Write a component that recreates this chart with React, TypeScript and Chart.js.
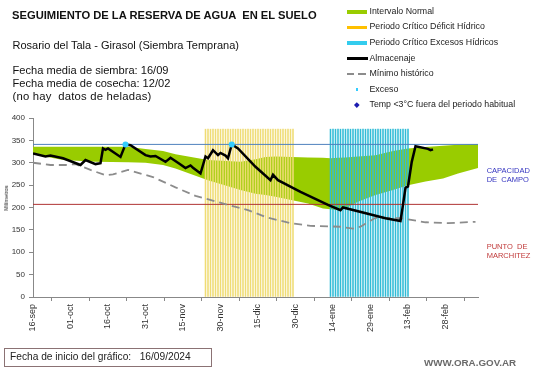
import React, { useEffect, useRef } from 'react';
import { Chart, registerables } from 'chart.js';

Chart.register(...registerables);

const FONT = '"Liberation Sans", Arial, sans-serif';

// x axis: days since 16-sep-2024
const axisEndDay = 178;
const tickDays = [0, 15, 30, 45, 60, 75, 90, 105, 120, 135, 150, 165];
const tickLabels = ['16-sep', '01-oct', '16-oct', '31-oct', '15-nov', '30-nov', '15-dic', '30-dic', '14-ene', '29-ene', '13-feb', '28-feb'];
const yTickValues = [0, 50, 100, 150, 200, 250, 300, 350, 400];

// Almacenaje
const almacenajeDays = [0, 5, 7, 12, 19, 21, 25, 27, 28, 29, 30, 35, 37, 39, 45, 47, 49, 53, 55, 59, 61, 63, 64, 67, 69, 70, 72, 74, 75, 77, 78, 79.5, 82, 89, 95, 96, 98, 107, 118, 123, 124, 141, 147, 148, 149, 150, 151.5, 153, 158, 159, 160];
const almacenajeValues = [321, 314, 316, 310, 295, 306, 297, 299, 332, 329, 332, 313, 341, 339, 317, 314, 315, 302, 311, 296, 288, 294, 289, 276, 314, 310, 328, 317, 322, 316, 310, 341, 332, 291, 261, 273, 261, 235, 206, 194, 200, 176, 170, 206, 244, 247, 302, 337, 331, 328, 330];

// Intervalo normal (band)
const bandDays = [0, 12, 25, 38, 45, 52, 57, 70, 83, 89, 93, 97, 110, 116, 119, 122, 125, 130, 137, 144, 150, 157, 164, 170, 178];
const bandUpper = [336, 336, 336, 336, 331, 326, 319, 306, 302, 308, 313, 314, 312, 311, 310, 311, 312, 314, 317, 326, 332, 335, 338, 340, 342];
const bandLower = [319, 306, 302, 301, 300, 295, 287, 261, 239, 231, 228, 224, 209, 198, 196, 194, 198, 213, 228, 239, 250, 258, 265, 276, 288];

// Mínimo histórico
const minimoDays = [0, 7, 13, 17, 23, 29, 32, 38, 48, 57, 65, 74, 86, 94, 103, 111, 123, 128, 131, 137, 147, 157, 166, 177];
const minimoValues = [300, 295, 295, 297, 284, 272, 274, 284, 268, 245, 226, 212, 194, 177, 165, 159, 157, 153, 157, 177, 176, 167, 165, 168];

// Exceso
const excesoDays = [37, 79.5];
const excesoValues = [341, 341];

// Periodos críticos
const deficitDays = [69, 70, 71, 72, 73, 74, 75, 76, 77, 78, 79, 80, 81, 82, 83, 84, 85, 86, 87, 88, 89, 90, 91, 92, 93, 94, 95, 96, 97, 98, 99, 100, 101, 102, 103, 104];
const excesosDays = [119, 120, 121, 122, 123, 124, 125, 126, 127, 128, 129, 130, 131, 132, 133, 134, 135, 136, 137, 138, 139, 140, 141, 142, 143, 144, 145, 146, 147, 148, 149, 150];
const periodTop = 375;

const capacidadCampo = 341;
const puntoMarchitez = 207;

const pts = (xs: number[], ys: number[]) => xs.map((x, i) => ({ x, y: ys[i] }));

function T(props: { x: number; y: number; size: number; text: string; bold?: boolean; color?: string; ls?: number }) {
  return (
    <div
      style={{
        position: 'absolute',
        left: props.x,
        top: props.y,
        fontFamily: FONT,
        fontSize: props.size,
        lineHeight: props.size + 'px',
        fontWeight: props.bold ? 'bold' : 'normal',
        color: props.color || '#111',
        whiteSpace: 'pre',
        letterSpacing: props.ls ? props.ls + 'px' : undefined,
      }}
    >
      {props.text}
    </div>
  );
}

const legendRows = [
  'Intervalo Normal',
  'Periodo Crítico Déficit Hídrico',
  'Periodo Crítico Excesos Hídricos',
  'Almacenaje',
  'Mínimo histórico',
  'Exceso',
  'Temp <3°C fuera del periodo habitual',
];

export default function App() {
  const ref = useRef<HTMLCanvasElement | null>(null);

  useEffect(() => {
    if (!ref.current) return;
    const chart = new Chart(ref.current, {
      type: 'line',
      data: {
        datasets: [
          { label: 'upper', data: pts(bandDays, bandUpper), borderWidth: 0, pointRadius: 0, fill: '+1', backgroundColor: '#99cc00', borderColor: '#99cc00', order: 10 } as any,
          { label: 'lower', data: pts(bandDays, bandLower), borderWidth: 0, pointRadius: 0, fill: false, order: 10 } as any,
          { type: 'bar', label: 'deficit', data: deficitDays.map((d) => ({ x: d, y: periodTop })), backgroundColor: '#efdc74', barThickness: 0.9, grouped: false, order: 8 } as any,
          { type: 'bar', label: 'excesos', data: excesosDays.map((d) => ({ x: d, y: periodTop })), backgroundColor: '#30bcd6', barThickness: 0.9, grouped: false, order: 8 } as any,
          { label: 'cc', data: [{ x: 0, y: capacidadCampo }, { x: axisEndDay, y: capacidadCampo }], borderColor: '#4f81bd', borderWidth: 1, pointRadius: 0, order: 6 } as any,
          { label: 'pm', data: [{ x: 0, y: puntoMarchitez }, { x: axisEndDay, y: puntoMarchitez }], borderColor: '#b03232', borderWidth: 1, pointRadius: 0, order: 6 } as any,
          { label: 'min', data: pts(minimoDays, minimoValues), borderColor: '#8c8c8c', borderWidth: 1.8, borderDash: [8, 5], pointRadius: 0, order: 5 } as any,
          { label: 'alm', data: pts(almacenajeDays, almacenajeValues), borderColor: '#000000', borderWidth: 2.5, pointRadius: 0, order: 2 } as any,
          { label: 'exceso', data: pts(excesoDays, excesoValues), showLine: false, pointRadius: 3, pointBackgroundColor: '#33ccff', pointBorderWidth: 0, pointStyle: 'circle', order: 1 } as any,
        ],
      },
      options: {
        animation: false,
        responsive: false,
        events: [],
        layout: { padding: { left: 0, right: 63, top: 118, bottom: 31 } },
        plugins: { legend: { display: false }, tooltip: { enabled: false }, title: { display: false } },
        scales: {
          x: {
            type: 'linear',
            min: 0,
            max: axisEndDay,
            offset: false,
            afterBuildTicks: (s: any) => {
              s.ticks = tickDays.map((value) => ({ value }));
            },
            afterFit: (s: any) => {
              s.height = 40;
            },
            ticks: {
              autoSkip: false,
              minRotation: 90,
              maxRotation: 90,
              padding: 3,
              color: '#333',
              font: { family: FONT, size: 9 },
              callback: (v: any) => tickLabels[tickDays.indexOf(Number(v))],
            },
            grid: { display: true, drawOnChartArea: false, drawTicks: true, tickLength: 4, color: '#888' },
            border: { display: true, color: '#888', width: 1 },
          },
          y: {
            type: 'linear',
            min: 0,
            max: 400,
            afterBuildTicks: (s: any) => {
              s.ticks = yTickValues.map((value) => ({ value }));
            },
            afterFit: (s: any) => {
              s.width = 33;
            },
            ticks: { padding: 4, color: '#333', font: { family: FONT, size: 8 } },
            grid: { display: true, drawOnChartArea: false, drawTicks: true, tickLength: 4, color: '#888' },
            border: { display: true, color: '#888', width: 1 },
          },
        },
      },
    });
    return () => chart.destroy();
  }, []);

  const rowY = (i: number) => 11.7 + 15.55 * i;

  return (
    <div style={{ position: 'absolute', left: 0, top: 0, width: 541, height: 368, background: '#fff', overflow: 'hidden' }}>
      <canvas ref={ref} width={541} height={368} style={{ position: 'absolute', left: 0, top: 0, width: 541, height: 368 }} />

      <T x={12} y={10} size={11.2} bold text="SEGUIMIENTO DE LA RESERVA DE AGUA  EN EL SUELO" />
      <T x={12.5} y={40.4} size={11} text="Rosario del Tala - Girasol (Siembra Temprana)" />
      <div style={{ position: 'absolute', left: 12.5, top: 63.5, fontFamily: FONT, fontSize: 11.1, lineHeight: '13px', color: '#111', whiteSpace: 'pre' }}>
        {'Fecha media de siembra: 16/09\nFecha media de cosecha: 12/02'}
      </div>
      <T x={12.5} y={91} size={11.3} ls={0.2} text="(no hay  datos de heladas)" />

      {/* legend */}
      <div style={{ position: 'absolute', left: 347, top: rowY(0) - 1.7, width: 20, height: 3.5, background: '#99cc00' }} />
      <div style={{ position: 'absolute', left: 347, top: rowY(1) - 1.7, width: 20, height: 3.5, background: '#ffc000' }} />
      <div style={{ position: 'absolute', left: 347, top: rowY(2) - 1.7, width: 20, height: 3.5, background: '#33ccee' }} />
      <div style={{ position: 'absolute', left: 347, top: rowY(3) - 1.2, width: 21, height: 2.5, background: '#000' }} />
      <div style={{ position: 'absolute', left: 347, top: rowY(4) - 1, width: 6.5, height: 2, background: '#8c8c8c' }} />
      <div style={{ position: 'absolute', left: 357.5, top: rowY(4) - 1, width: 8.5, height: 2, background: '#8c8c8c' }} />
      <div style={{ position: 'absolute', left: 355.8, top: rowY(5) - 1.3, width: 2.6, height: 2.6, background: '#33ccff' }} />
      <div style={{ position: 'absolute', left: 355.3, top: rowY(6) - 1.8, width: 3.6, height: 3.6, background: '#1c1cb0', transform: 'rotate(45deg)' }} />
      {legendRows.map((t, i) => (
        <T key={t} x={369.5} y={rowY(i) - 4.8} size={8.8} color="#222" text={t} />
      ))}

      {/* y-axis title */}
      <div style={{ position: 'absolute', left: 6.2, top: 198, width: 0, height: 0 }}>
        <div style={{ position: 'absolute', transform: 'translate(-50%,-50%) rotate(-90deg)', fontFamily: FONT, fontSize: 5.5, lineHeight: '6px', color: '#222', whiteSpace: 'pre' }}>Milímetros</div>
      </div>

      {/* reference labels */}
      <T x={486.7} y={166.5} size={7.5} color="#3535c0" text="CAPACIDAD" />
      <T x={486.7} y={175.5} size={7.5} color="#3535c0" text="DE  CAMPO" />
      <T x={486.7} y={243} size={7.5} color="#c03a3a" text="PUNTO  DE" />
      <T x={486.7} y={251.5} size={7.5} color="#c03a3a" text="MARCHITEZ" />

      {/* footer */}
      <div style={{ position: 'absolute', left: 4, top: 348, width: 206, height: 17, border: '1px solid #8b7274', background: '#fff' }} />
      <T x={10} y={352.3} size={10.2} color="#222" text="Fecha de inicio del gráfico:   16/09/2024" />
      <T x={424} y={358.3} size={9.8} bold color="#6a6a6a" text="WWW.ORA.GOV.AR" />
    </div>
  );
}
